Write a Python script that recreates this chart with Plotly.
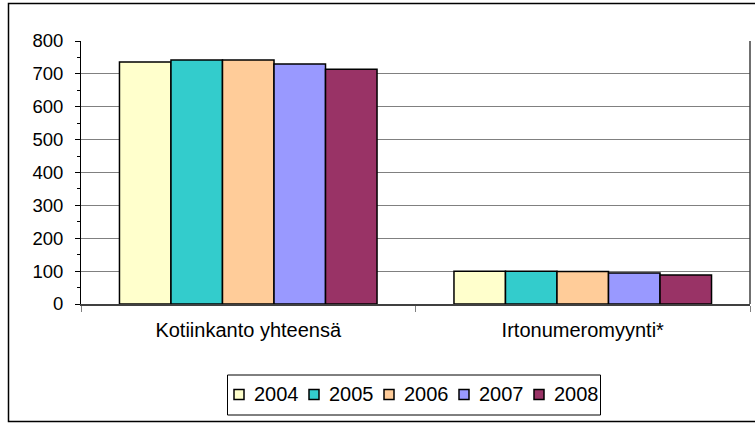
import plotly.graph_objects as go

categories = ["Kotiinkanto yhteensä", "Irtonumeromyynti*"]
years = ["2004", "2005", "2006", "2007", "2008"]
values = {
    "2004": [736, 100],
    "2005": [742, 100],
    "2006": [742, 99],
    "2007": [730, 94],
    "2008": [714, 88],
}
colors = ["#FFFFCC", "#33CCCC", "#FFCC99", "#9999FF", "#993366"]

# plot area in pixels: x 81..750, y 41..304
PL, PR, PT, PB = 81, 750, 41, 304


def px(x):
    return (x - PL) / (PR - PL)


def py(y):
    return (PB - y) / (PB - PT)


fig = go.Figure()
for yr, col in zip(years, colors):
    fig.add_trace(go.Bar(
        x=categories, y=values[yr], name=yr, showlegend=False,
        marker=dict(color=col, line=dict(color="black", width=1.5)),
    ))

shapes = [
    # chart border
    dict(type="rect", xref="paper", yref="paper",
         x0=px(8.5), x1=px(770), y0=py(421.5), y1=py(3.5),
         line=dict(color="black", width=1.5)),
    # right edge of plot area
    dict(type="line", xref="paper", yref="paper",
         x0=1, x1=1, y0=0, y1=1, line=dict(color="#404040", width=1.5)),
    # legend box
    dict(type="rect", xref="paper", yref="paper",
         x0=px(227.5), x1=px(600.5), y0=py(415), y1=py(375),
         line=dict(color="black", width=1)),
]
annotations = []
for i, (yr, col) in enumerate(zip(years, colors)):
    sx = 234 + i * 75
    shapes.append(dict(type="rect", xref="paper", yref="paper",
                       x0=px(sx), x1=px(sx + 10), y0=py(399.5), y1=py(389.5),
                       fillcolor=col, line=dict(color="black", width=1.5)))
    annotations.append(dict(text=yr, xref="paper", yref="paper",
                            x=px(sx + 18), y=py(394), xanchor="left", yanchor="middle",
                            showarrow=False, font=dict(size=20)))

fig.update_layout(
    width=755, height=423,
    margin=dict(l=PL, r=755 - PR, t=PT, b=423 - PB),
    barmode="group", bargap=0.23, bargroupgap=0,
    paper_bgcolor="white", plot_bgcolor="white",
    font=dict(family="Liberation Sans, Arial", size=18.5, color="black"),
    xaxis=dict(
        showline=True, linecolor="#404040", linewidth=1.5,
        ticks="outside", tickson="boundaries", ticklen=6, tickcolor="#808080",
        showgrid=False, tickfont=dict(size=20), ticklabelstandoff=7,
    ),
    yaxis=dict(
        range=[0, 800], dtick=100,
        showline=True, linecolor="black", linewidth=1,
        ticks="outside", ticklen=5, tickcolor="black",
        showgrid=True, gridcolor="#808080", gridwidth=1,
        minor=dict(ticks="outside", ticklen=3, dtick=50, tickcolor="black", showgrid=False),
        zeroline=False, ticklabelstandoff=8,
    ),
    shapes=shapes,
    annotations=annotations,
)

fig.write_html("out.html", config={"displayModeBar": False},
               post_script="document.body.style.margin='0';")
